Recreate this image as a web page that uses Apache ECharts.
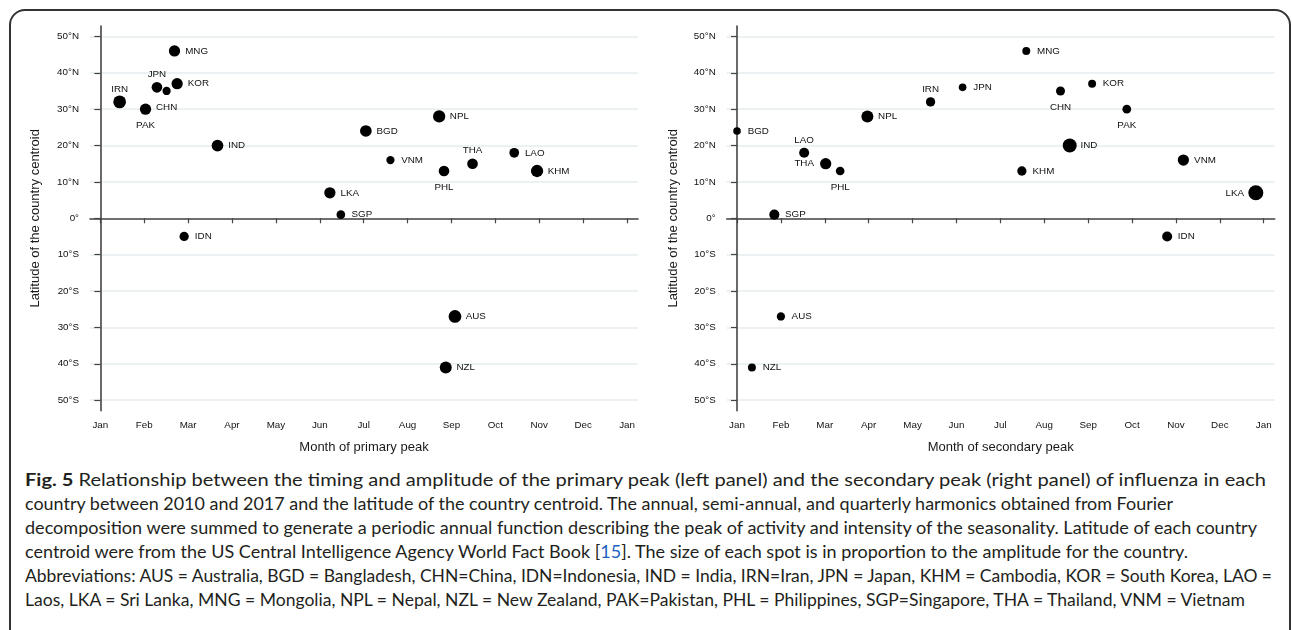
<!DOCTYPE html>
<html>
<head>
<meta charset="utf-8">
<title>Fig. 5</title>
<script src="https://cdn.jsdelivr.net/npm/echarts@6.0.0/dist/echarts.min.js"></script>
<style>
  html, body { margin: 0; padding: 0; background: #fff; }
  body { width: 1292px; height: 630px; position: relative; overflow: hidden; }
  #frame {
    position: absolute; left: 9px; top: 9px; width: 1282px; height: 700px;
    box-sizing: border-box; border: 2px solid #333; border-radius: 16px;
  }
  #chart { position: absolute; left: 0; top: 0; width: 1292px; height: 460px; }
  #caption {
    position: absolute; left: 25px; top: 467px;
    font-family: Lato, "Open Sans", sans-serif; font-size: 17px; line-height: 24px; color: #231f20;
  }
  .cap-line { white-space: nowrap; height: 24px; }
  .cap-line span { display: inline-block; transform-origin: 0 50%; }
  .cap-line b { font-weight: 700; }
  .cap-line a { color: #1f5fbf; text-decoration: none; }
</style>
</head>
<body>
<div id="frame"></div>
<div id="chart"></div>
<div id="caption">
  <div class="cap-line"><span><b>Fig. 5</b> Relationship between the timing and amplitude of the primary peak (left panel) and the secondary peak (right panel) of influenza in each</span></div>
  <div class="cap-line"><span>country between 2010 and 2017 and the latitude of the country centroid. The annual, semi-annual, and quarterly harmonics obtained from Fourier</span></div>
  <div class="cap-line"><span>decomposition were summed to generate a periodic annual function describing the peak of activity and intensity of the seasonality. Latitude of each country</span></div>
  <div class="cap-line"><span>centroid were from the US Central Intelligence Agency World Fact Book [<a>15</a>]. The size of each spot is in proportion to the amplitude for the country.</span></div>
  <div class="cap-line"><span>Abbreviations: AUS = Australia, BGD = Bangladesh, CHN=China, IDN=Indonesia, IND = India, IRN=Iran, JPN = Japan, KHM = Cambodia, KOR = South Korea, LAO =</span></div>
  <div class="cap-line"><span>Laos, LKA = Sri Lanka, MNG = Mongolia, NPL = Nepal, NZL = New Zealand, PAK=Pakistan, PHL = Philippines, SGP=Singapore, THA = Thailand, VNM = Vietnam</span></div>
</div>
<script>
// data
var countries = ['AUS', 'BGD', 'CHN', 'IDN', 'IND', 'IRN', 'JPN', 'KHM', 'KOR', 'LAO',
                 'LKA', 'MNG', 'NPL', 'NZL', 'PAK', 'PHL', 'SGP', 'THA', 'VNM'];
var latitude = [-27, 24, 35, -5, 20, 32, 36, 13, 37, 18, 7, 46, 28, -41, 30, 13, 1, 15, 16];
// month of peak, 0 = Jan 1st
var primaryMonth = [8.08, 6.05, 1.51, 1.91, 2.67, 0.44, 1.29, 9.95, 1.75, 9.43,
                    5.23, 1.69, 7.72, 7.87, 1.03, 7.83, 5.48, 8.48, 6.61];
var primaryAmp = [0.85, 0.78, 0.55, 0.62, 0.78, 0.85, 0.71, 0.82, 0.75, 0.65,
                  0.75, 0.75, 0.82, 0.80, 0.75, 0.71, 0.58, 0.71, 0.55];
var secondaryMonth = [1.00, 0.00, 7.37, 9.80, 7.58, 4.41, 5.14, 6.49, 8.09, 1.53,
                      11.82, 6.59, 2.97, 0.34, 8.88, 2.35, 0.85, 2.02, 10.17];
var secondaryAmp = [0.55, 0.51, 0.60, 0.67, 0.93, 0.62, 0.51, 0.62, 0.53, 0.67,
                    1.00, 0.53, 0.80, 0.53, 0.58, 0.58, 0.67, 0.75, 0.75];
var monthLabels = ['Jan', 'Feb', 'Mar', 'Apr', 'May', 'Jun', 'Jul', 'Aug', 'Sep', 'Oct', 'Nov', 'Dec', 'Jan'];
var monthTicks = [0, 1, 2, 3, 4, 5, 6, 7, 8, 9, 10, 11, 12];
var latTicks = [-50, -40, -30, -20, -10, 0, 10, 20, 30, 40, 50];

// where each marker label sits (default right)
var primaryLabelPos = {
  JPN: 'top', IRN: 'top', THA: 'top', CHN: 'bottom', PAK: 'bottom', PHL: 'bottom'
};
var secondaryLabelPos = {
  IRN: 'top', LAO: 'top', CHN: 'bottom', PAK: 'bottom', PHL: 'bottom', THA: 'left', LKA: 'left'
};

var SIZE_SCALE = 15;
var FONT = '"Liberation Sans", Arial, sans-serif';
var labelGap = { right: 10.7, left: 11.7, top: 8, bottom: 11 };

function latFormat(v) {
  if (v > 0) return v + '°N';
  if (v < 0) return (-v) + '°S';
  return '0°';
}

function buildData(months, amps, posMap) {
  return countries.map(function (c, i) {
    var d = amps[i] * SIZE_SCALE;
    var pos = posMap[c] || 'right';
    return {
      name: c,
      value: [months[i], latitude[i]],
      symbolSize: d,
      label: { position: pos, distance: Math.max(labelGap[pos] - d / 2, 1) }
    };
  });
}

var chart = echarts.init(document.getElementById('chart'), null, { renderer: 'canvas' });

var grids = [
  { left: 90, top: 26, width: 548, height: 384.7, outerBoundsMode: 'none' },
  { left: 726.7, top: 26, width: 548, height: 384.7, outerBoundsMode: 'none' }
];
var xNames = ['Month of primary peak', 'Month of secondary peak'];
var yGaps = [48, 47];

function xAxisFor(i) {
  return {
    gridIndex: i, type: 'value', min: -0.235, max: 12.25,
    name: xNames[i], nameLocation: 'middle', nameGap: 30,
    nameTextStyle: { fontFamily: FONT, fontSize: 13, color: '#1a1a1a' },
    axisLine: { show: true, lineStyle: { color: '#444', width: 1.6 } },
    axisTick: { show: true, length: 5, customValues: monthTicks, lineStyle: { color: '#444', width: 1.2 } },
    axisLabel: {
      show: true, customValues: monthTicks, margin: 10,
      fontFamily: FONT, fontSize: 9.8, color: '#111',
      formatter: function (v) { return monthLabels[Math.round(v)]; }
    },
    splitLine: { show: false }
  };
}

function yAxisFor(i) {
  return {
    gridIndex: i, type: 'value', min: -52.9, max: 52.86,
    name: 'Latitude of the country centroid', nameLocation: 'middle', nameGap: yGaps[i],
    nameRotate: 90,
    nameTextStyle: { fontFamily: FONT, fontSize: 13, color: '#1a1a1a' },
    axisLine: { show: true, lineStyle: { color: '#444', width: 1.6 } },
    axisTick: { show: true, length: 6, customValues: latTicks, lineStyle: { color: '#444', width: 1.2 } },
    axisLabel: {
      show: true, customValues: latTicks, margin: 11,
      fontFamily: FONT, fontSize: 9.8, color: '#111',
      formatter: latFormat
    },
    splitLine: { show: true, lineStyle: { color: '#e6eef0', width: 1.5 } }
  };
}

function seriesFor(i, data) {
  return {
    type: 'scatter', xAxisIndex: i, yAxisIndex: i,
    data: data,
    itemStyle: { color: '#000', opacity: 1 },
    label: {
      show: true, formatter: '{b}',
      fontFamily: FONT, fontSize: 9.8, color: '#111'
    },
    emphasis: { disabled: true },
    silent: true
  };
}

chart.setOption({
  animation: false,
  backgroundColor: 'transparent',
  grid: grids,
  xAxis: [xAxisFor(0), xAxisFor(1)],
  yAxis: [yAxisFor(0), yAxisFor(1)],
  series: [
    seriesFor(0, buildData(primaryMonth, primaryAmp, primaryLabelPos)),
    seriesFor(1, buildData(secondaryMonth, secondaryAmp, secondaryLabelPos))
  ]
});

// caption: common font size from the median fit, then stretch each line to its measured end
var lineEnds = [1266, 1173, 1257, 1188, 1272, 1245];
var capLeft = 25;
var cap = document.getElementById('caption');
var spans = cap.querySelectorAll('.cap-line span');
var ratios = [];
spans.forEach(function (s, i) {
  ratios.push((lineEnds[i] - capLeft) / s.getBoundingClientRect().width);
});
var sorted = ratios.slice().sort(function (a, b) { return a - b; });
var med = (sorted[2] + sorted[3]) / 2;
cap.style.fontSize = (17 * med) + 'px';
spans.forEach(function (s, i) {
  var w = s.getBoundingClientRect().width;
  s.style.transform = 'scaleX(' + ((lineEnds[i] - capLeft) / w) + ')';
});
</script>
</body>
</html>
